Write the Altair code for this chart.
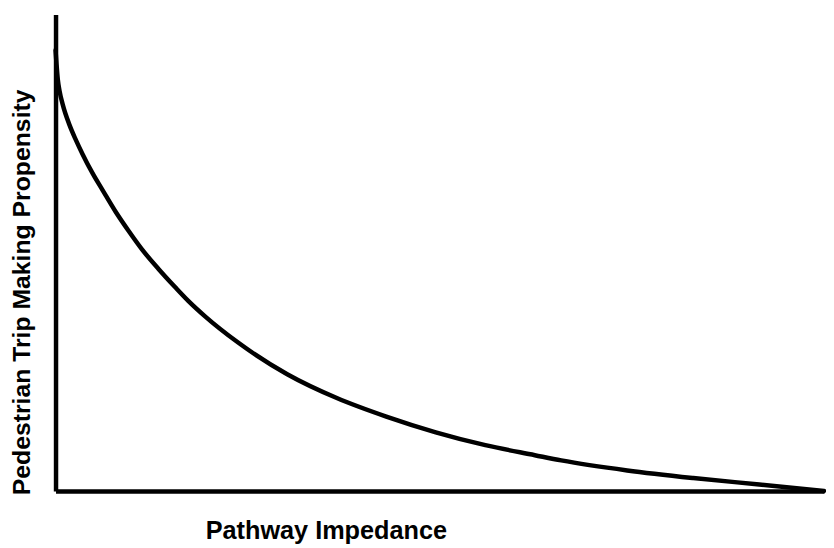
import altair as alt
import pandas as pd

# Curve (arbitrary 0-100 units on both axes)
impedance = [0, 0.13, 0.30, 0.52, 0.94, 1.80, 2.67, 3.52, 4.81, 6.10, 7.82, 9.54,
             11.25, 13.40, 15.55, 17.27, 19.42, 23.71, 30.15, 36.60, 43.04, 49.48,
             55.93, 62.37, 65.81, 74.39, 82.99, 91.58, 100]
propensity = [92.5, 89.6, 86.3, 84.0, 81.1, 76.9, 73.6, 70.7, 66.7, 63.2, 58.6, 54.5,
              50.7, 46.6, 42.8, 39.9, 36.7, 31.2, 24.5, 19.5, 15.6, 12.3,
              9.6, 7.5, 6.4, 4.3, 2.7, 1.35, 0]

x_title = "Pathway Impedance"
y_title = "Pedestrian Trip Making Propensity"

df = pd.DataFrame({"impedance": impedance, "propensity": propensity})

FONT = "Liberation Sans"

chart = alt.Chart(df).mark_line(
    color="black", strokeWidth=4.5, interpolate="monotone", strokeCap="round"
).encode(
    x=alt.X("impedance:Q", scale=alt.Scale(domain=[0, 100], nice=False, zero=False),
            axis=alt.Axis(title=x_title, labels=False, ticks=False, grid=False,
                          domainColor="black", domainWidth=4.5,
                          titleFont=FONT, titleFontSize=25.5, titleFontWeight="bold",
                          titleColor="black", titleAlign="center",
                          titleBaseline="alphabetic", titleX=273, titleY=48)),
    y=alt.Y("propensity:Q", scale=alt.Scale(domain=[0, 100], nice=False, zero=False),
            axis=alt.Axis(title=y_title, labels=False, ticks=False, grid=False,
                          domainColor="black", domainWidth=4.5,
                          titleFont=FONT, titleFontSize=25, titleFontWeight="bold",
                          titleColor="black", titleAlign="center", titleAngle=270,
                          titleBaseline="alphabetic", titleX=-26, titleY=280)),
).properties(
    width=776,
    height=481,
    autosize=alt.AutoSizeParams(type="none"),
    padding={"left": 48, "top": 4, "right": 2, "bottom": 55},
).configure_view(stroke=None)

chart.save("out.html", embed_options={"renderer": "svg", "actions": False})
